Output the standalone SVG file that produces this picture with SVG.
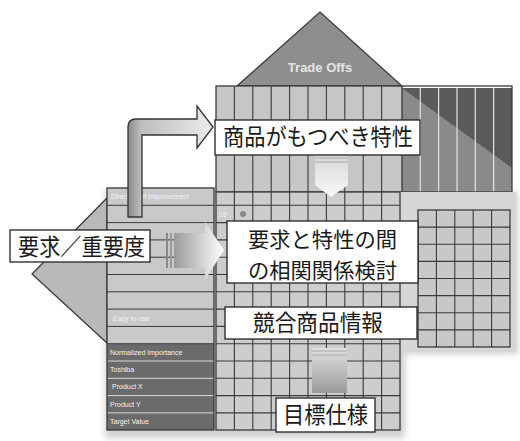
<svg xmlns="http://www.w3.org/2000/svg" width="520" height="441" viewBox="0 0 520 441">
<defs>
<style>
.lbl{fill:#fff;stroke:#222;stroke-width:1.3}
.jp{font-family:"Noto Sans CJK JP","Noto Sans",sans-serif;font-size:23px;fill:#1a1a1a}
.sm{font-family:"Liberation Sans",Arial,sans-serif;font-size:7px;fill:#f2f2f2}
.grid{stroke:#3a3a3a;stroke-width:1.1;fill:none}
.edge{stroke:#3a3a3a;stroke-width:1.3}
</style>
<filter id="sh" x="-10%" y="-10%" width="120%" height="120%">
<feGaussianBlur stdDeviation="3"/>
</filter>
<linearGradient id="gL" x1="0" y1="0" x2="1" y2="0">
<stop offset="0" stop-color="#8a8a8a"/><stop offset="0.15" stop-color="#bdbdbd"/><stop offset="1" stop-color="#ececec"/>
</linearGradient>
<linearGradient id="gH" x1="0" y1="0" x2="1" y2="0">
<stop offset="0" stop-color="#9a9a9a"/><stop offset="1" stop-color="#ffffff"/>
</linearGradient>
<linearGradient id="gD" x1="0" y1="0" x2="0" y2="1">
<stop offset="0" stop-color="#d8d8d8"/><stop offset="1" stop-color="#f8f8f8"/>
</linearGradient>
<linearGradient id="gD2" x1="0" y1="0" x2="0" y2="1">
<stop offset="0" stop-color="#e0e0e0"/><stop offset="1" stop-color="#9a9a9a"/>
</linearGradient>
</defs>
<rect width="520" height="441" fill="#fff"/>

<!-- shadows -->
<g fill="#bdbdbd" filter="url(#sh)" opacity="0.7">
<rect x="105" y="190" width="300" height="248"/>
<rect x="398" y="192" width="120" height="162"/>
</g>

<g id="left-wall">
<polygon points="107,198 32,274 107,343" fill="#b9b9b9" class="edge"/>
<rect x="107" y="188" width="107" height="156" fill="#c9c9c9"/>
<rect x="107" y="344" width="107" height="86" fill="#6b6b6b"/>
<g stroke="#3a3a3a" stroke-width="1">
<line x1="107" y1="205.3" x2="214" y2="205.3"/><line x1="107" y1="222.6" x2="214" y2="222.6"/>
<line x1="107" y1="239.9" x2="214" y2="239.9"/><line x1="107" y1="257.2" x2="214" y2="257.2"/>
<line x1="107" y1="274.5" x2="214" y2="274.5"/><line x1="107" y1="291.8" x2="214" y2="291.8"/>
<line x1="107" y1="309.1" x2="214" y2="309.1"/><line x1="107" y1="326.4" x2="214" y2="326.4"/>
<line x1="107" y1="343.7" x2="214" y2="343.7"/>
</g>
<g stroke="#e6e6e6" stroke-width="0.9">
<line x1="107" y1="361" x2="214" y2="361"/><line x1="107" y1="378.3" x2="214" y2="378.3"/>
<line x1="107" y1="395.6" x2="214" y2="395.6"/><line x1="107" y1="412.9" x2="214" y2="412.9"/>
</g>
<rect x="107" y="188" width="107" height="242" fill="none" class="edge"/>
<text class="sm" x="111" y="199">Direction of Improvement</text>
<text class="sm" x="113" y="321">Easy to use</text>
<text class="sm" x="110" y="355">Normalized Importance</text>
<text class="sm" x="110" y="372">Toshiba</text>
<text class="sm" x="112" y="389">Product X</text>
<text class="sm" x="110" y="407">Product Y</text>
<text class="sm" x="110" y="424">Target Value</text>
</g>

<g id="roof">
<polygon points="237,86 320,12 402,86" fill="#8e8e8e" class="edge"/>
<text x="320" y="72" text-anchor="middle" font-family="'Liberation Sans',Arial,sans-serif" font-size="13" font-weight="bold" fill="#e4e4e4">Trade Offs</text>
</g>

<g id="ceiling">
<rect x="216" y="86" width="186" height="106" fill="#c6c6c6"/>
<g class="grid">
<line x1="234.4" y1="86" x2="234.4" y2="192"/><line x1="252.8" y1="86" x2="252.8" y2="192"/>
<line x1="271.2" y1="86" x2="271.2" y2="192"/><line x1="289.6" y1="86" x2="289.6" y2="192"/>
<line x1="308" y1="86" x2="308" y2="192"/><line x1="326.4" y1="86" x2="326.4" y2="192"/>
<line x1="344.8" y1="86" x2="344.8" y2="192"/><line x1="363.2" y1="86" x2="363.2" y2="192"/>
<line x1="381.6" y1="86" x2="381.6" y2="192"/>
</g>
<rect x="402" y="88" width="110" height="104" fill="#8a8a8a"/>
<polygon points="402,88 512,88 512,168" fill="#5a5a5a"/>
<g stroke="#e2e2e2" stroke-width="1.2">
<line x1="420.3" y1="88" x2="420.3" y2="192"/><line x1="438.6" y1="88" x2="438.6" y2="192"/>
<line x1="457" y1="88" x2="457" y2="192"/><line x1="475.3" y1="88" x2="475.3" y2="192"/>
<line x1="493.6" y1="88" x2="493.6" y2="192"/>
</g>
<rect x="216" y="86" width="296" height="106" fill="none" class="edge"/>
<line x1="402" y1="86" x2="402" y2="192" class="edge"/>
</g>

<g id="right-grid">
<rect x="400" y="192" width="116" height="160" fill="#d6d6d6"/>
<rect x="418" y="210" width="92" height="137" fill="#c8c8c8"/>
<g class="grid">
<line x1="436.4" y1="210" x2="436.4" y2="347"/><line x1="454.8" y1="210" x2="454.8" y2="347"/>
<line x1="473.2" y1="210" x2="473.2" y2="347"/><line x1="491.6" y1="210" x2="491.6" y2="347"/>
<line x1="418" y1="227.1" x2="510" y2="227.1"/><line x1="418" y1="244.2" x2="510" y2="244.2"/>
<line x1="418" y1="261.4" x2="510" y2="261.4"/><line x1="418" y1="278.5" x2="510" y2="278.5"/>
<line x1="418" y1="295.6" x2="510" y2="295.6"/><line x1="418" y1="312.7" x2="510" y2="312.7"/>
<line x1="418" y1="329.9" x2="510" y2="329.9"/>
</g>
<rect x="418" y="210" width="92" height="137" fill="none" class="edge"/>
</g>

<g id="center-grid">
<rect x="216" y="192" width="184" height="238" fill="#cdcdcd"/>
<g class="grid">
<line x1="234.4" y1="192" x2="234.4" y2="430"/><line x1="252.8" y1="192" x2="252.8" y2="430"/>
<line x1="271.2" y1="192" x2="271.2" y2="430"/><line x1="289.6" y1="192" x2="289.6" y2="430"/>
<line x1="308" y1="192" x2="308" y2="430"/><line x1="326.4" y1="192" x2="326.4" y2="430"/>
<line x1="344.8" y1="192" x2="344.8" y2="430"/><line x1="363.2" y1="192" x2="363.2" y2="430"/>
<line x1="381.6" y1="192" x2="381.6" y2="430"/>
<line x1="216" y1="205.3" x2="400" y2="205.3"/><line x1="216" y1="222.6" x2="400" y2="222.6"/>
<line x1="216" y1="239.9" x2="400" y2="239.9"/><line x1="216" y1="257.2" x2="400" y2="257.2"/>
<line x1="216" y1="274.5" x2="400" y2="274.5"/><line x1="216" y1="291.8" x2="400" y2="291.8"/>
<line x1="216" y1="309.1" x2="400" y2="309.1"/><line x1="216" y1="326.4" x2="400" y2="326.4"/>
<line x1="216" y1="343.7" x2="400" y2="343.7"/><line x1="216" y1="361" x2="400" y2="361"/>
<line x1="216" y1="378.3" x2="400" y2="378.3"/><line x1="216" y1="395.6" x2="400" y2="395.6"/>
<line x1="216" y1="412.9" x2="400" y2="412.9"/>
</g>
<rect x="216" y="192" width="184" height="238" fill="none" class="edge"/>
<text x="219" y="217" font-family="'Liberation Sans',Arial,sans-serif" font-size="7" fill="#f0f0f0">10</text>
<circle cx="243" cy="214" r="3" fill="#8a8a8a"/>
</g>

<g id="connectors">
<path d="M128,217 L128,127 Q128,119 136,119 L197,119 L197,106 L213,127 L197,148 L197,135 L142,135 L142,217 Z" fill="url(#gL)" stroke="#333" stroke-width="1.3"/>
<g>
<rect x="166" y="233" width="2" height="35" fill="#888"/>
<rect x="170" y="233" width="2" height="35" fill="#999"/>
<polygon points="174,233 205,233 205,222 224,250 205,280 205,268 174,268" fill="url(#gH)"/>
</g>
<polygon points="315,155 348,155 348,185 331,197 315,185" fill="url(#gD)"/>
<g stroke="#aaa" stroke-width="1"><line x1="315" y1="158" x2="348" y2="158"/><line x1="315" y1="162" x2="348" y2="162"/></g>
<rect x="312" y="348" width="35" height="45" fill="url(#gD2)"/>
<g stroke="#aaa" stroke-width="1"><line x1="312" y1="351" x2="347" y2="351"/><line x1="312" y1="355" x2="347" y2="355"/></g>
</g>

<g id="label-characteristics">
<rect x="215" y="120" width="205" height="35" class="lbl"/>
<text class="jp" x="223" y="145" textLength="190" lengthAdjust="spacingAndGlyphs">商品がもつべき特性</text>
</g>
<g id="label-requirements">
<rect x="10" y="230" width="140" height="32" class="lbl"/>
<text class="jp" x="18" y="255" textLength="127" lengthAdjust="spacingAndGlyphs">要求／重要度</text>
</g>
<g id="label-correlation">
<rect x="227" y="221" width="191" height="62" class="lbl"/>
<text class="jp" style="font-size:21px"><tspan x="248" y="247" textLength="149" lengthAdjust="spacingAndGlyphs">要求と特性の間</tspan><tspan x="248" y="277.5" textLength="149" lengthAdjust="spacingAndGlyphs">の相関関係検討</tspan></text>
</g>
<g id="label-competitors">
<rect x="225" y="307" width="192" height="32" class="lbl"/>
<text class="jp" x="253" y="331" textLength="130" lengthAdjust="spacingAndGlyphs">競合商品情報</text>
</g>
<g id="label-target">
<rect x="276" y="398" width="99" height="34" class="lbl"/>
<text class="jp" x="283" y="423" textLength="85" lengthAdjust="spacingAndGlyphs">目標仕様</text>
</g>
</svg>
